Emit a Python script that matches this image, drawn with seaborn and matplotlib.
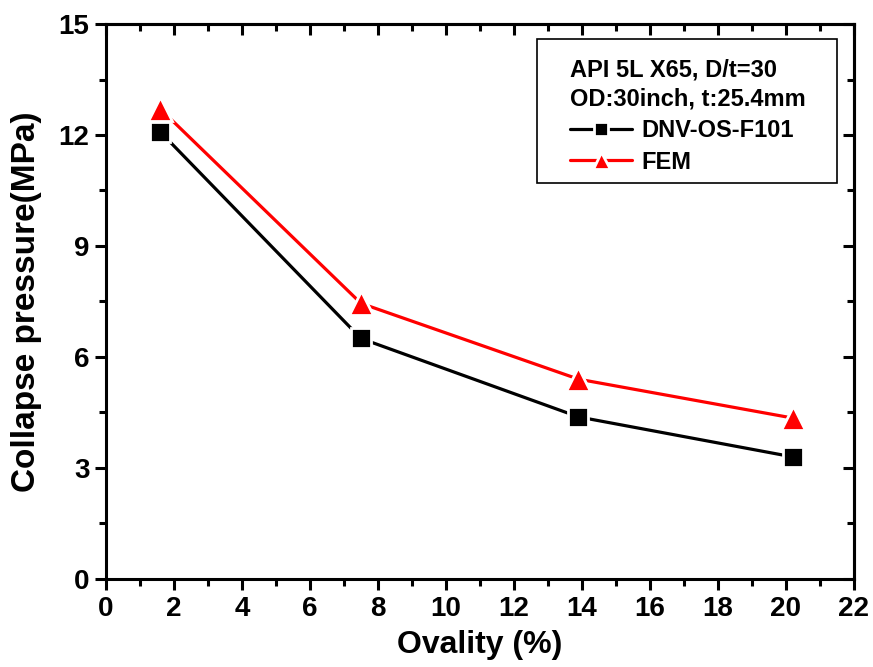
import numpy as np
import pandas as pd
import matplotlib
matplotlib.use("Agg")
import matplotlib.pyplot as plt
import seaborn as sns
from matplotlib.ticker import MultipleLocator
from matplotlib.patches import Rectangle

ovality = [1.6, 7.5, 13.9, 20.2]
dnv = [12.08, 6.5, 4.38, 3.3]
fem = [12.7, 7.45, 5.4, 4.35]

sns.set_style("ticks")
plt.rcParams['font.family'] = ['Liberation Sans', 'DejaVu Sans']
plt.rcParams['font.weight'] = 'bold'
plt.rcParams['text.color'] = 'black'
plt.rcParams['axes.labelcolor'] = 'black'
plt.rcParams['xtick.color'] = 'black'
plt.rcParams['ytick.color'] = 'black'
plt.rcParams['axes.edgecolor'] = 'black'

fig, ax = plt.subplots(figsize=(8.73, 6.67), dpi=100)
fig.subplots_adjust(left=0.1215, right=0.978, top=0.964, bottom=0.132)

sns.lineplot(x=ovality, y=dnv, ax=ax, color='black', lw=2.3, marker='s', ms=14,
             mec='white', mew=2, label='DNV-OS-F101')
sns.lineplot(x=ovality, y=fem, ax=ax, color='red', lw=2.3, marker='^', ms=17,
             mec='white', mew=2, label='FEM')

ax.set_xlim(0, 22)
ax.set_ylim(0, 15)
ax.xaxis.set_major_locator(MultipleLocator(2))
ax.xaxis.set_minor_locator(MultipleLocator(1))
ax.yaxis.set_major_locator(MultipleLocator(3))
ax.yaxis.set_minor_locator(MultipleLocator(1.5))

for s in ax.spines.values():
    s.set_linewidth(2.2)
    s.set_visible(True)

ax.tick_params(axis='both', which='major', direction='out', length=8, width=2.2,
               labelsize=20, pad=4)
ax.tick_params(axis='both', which='minor', direction='out', length=5, width=2.2)
ax.tick_params(top=False, right=False, which='both')

# mirrored inward ticks on top/right
sec_x = ax.secondary_xaxis('top')
sec_x.xaxis.set_major_locator(MultipleLocator(2))
sec_x.xaxis.set_minor_locator(MultipleLocator(1))
sec_x.tick_params(which='major', direction='in', length=8, width=2.2, labeltop=False)
sec_x.tick_params(which='minor', direction='in', length=5, width=2.2)
sec_x.spines['top'].set_linewidth(2.2)
sec_y = ax.secondary_yaxis('right')
sec_y.yaxis.set_major_locator(MultipleLocator(3))
sec_y.yaxis.set_minor_locator(MultipleLocator(1.5))
sec_y.tick_params(which='major', direction='in', length=8, width=2.2, labelright=False)
sec_y.tick_params(which='minor', direction='in', length=5, width=2.2)
sec_y.spines['right'].set_linewidth(2.2)

ax.set_xlabel('Ovality (%)', fontsize=23, fontweight='bold', labelpad=6)
ax.set_ylabel('Collapse pressure(MPa)', fontsize=24, fontweight='bold', labelpad=12)

# legend frame drawn separately (wider padding than matplotlib's legend)
ax.add_patch(Rectangle((0.576, 0.7135), 0.401, 0.2595, transform=ax.transAxes,
                       fill=False, edgecolor='black', lw=1.2, zorder=5))
leg = ax.legend(title='API 5L X65, D/t=30\nOD:30inch, t:25.4mm', loc='upper left',
                bbox_to_anchor=(0.621, 0.938), fontsize=17, title_fontsize=17,
                frameon=False, handlelength=2.6, handletextpad=0.4, borderpad=0,
                borderaxespad=0, labelspacing=0.36, alignment='left',
                markerscale=0.72)
leg.get_title().set_fontweight('bold')
leg.get_title().set_linespacing(1.35)
for t in leg.get_texts():
    t.set_fontweight('bold')

fig.savefig('out.png', dpi=100)
